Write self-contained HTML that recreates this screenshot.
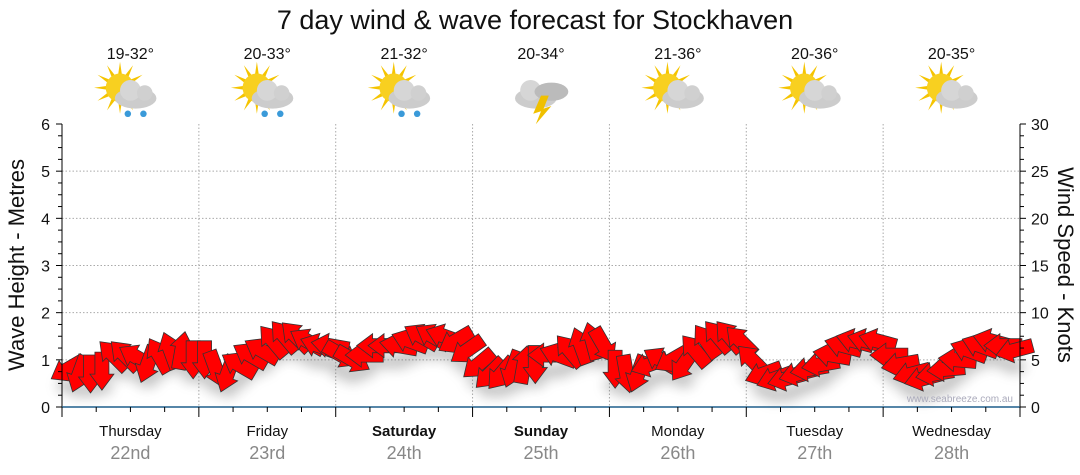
<!DOCTYPE html>
<html><head><meta charset="utf-8"><style>
html,body{margin:0;padding:0;background:#fff;}
svg{display:block;font-family:"Liberation Sans","DejaVu Sans",sans-serif;}
</style></head><body>
<svg id="chart" width="1080" height="475" viewBox="0 0 1080 475">
<defs>
<filter id="shadow" x="-10%" y="-50%" width="120%" height="200%">
<feGaussianBlur stdDeviation="6"/>
</filter>
</defs>
<text x="535" y="29" text-anchor="middle" font-size="27" fill="#111">7 day wind &amp; wave forecast for Stockhaven</text>
<g id="grid"></g>
<g id="icons"></g>
<g id="shadowLayer" filter="url(#shadow)" opacity="0.35"></g>
<g id="arrows"></g>
<g id="axes"></g>
<text x="1013" y="402" text-anchor="end" font-size="10" fill="#aab">www.seabreeze.com.au</text>
<text transform="translate(24,265) rotate(-90)" text-anchor="middle" font-size="22" fill="#111">Wave Height - Metres</text>
<text transform="translate(1058,265) rotate(90)" text-anchor="middle" font-size="22" fill="#111">Wind Speed - Knots</text>
</svg>
<script>
const days = ["Thursday","Friday","Saturday","Sunday","Monday","Tuesday","Wednesday"];
const dates = ["22nd","23rd","24th","25th","26th","27th","28th"];
const weekend = [false,false,true,true,false,false,false];
const temps = ["19-32°","20-33°","21-32°","20-34°","21-36°","20-36°","20-35°"];
const iconTypes = ["rain","rain","rain","storm","cloud","cloud","cloud"];
const waveTicks = [0,1,2,3,4,5,6];
const windTicks = [0,5,10,15,20,25,30];
// wind speed (knots), one sample every 2 hours
const windSpeed = [
4.0,3.5,3.5,3.8,5.5,5.5,5.3,4.5,5.5,6.0,6.0,5.0,
5.0,4.0,3.5,4.5,5.5,6.0,7.0,7.5,7.5,7.0,6.5,6.5,
5.5,5.0,5.5,6.5,6.5,6.5,7.0,7.5,7.5,7.5,7.0,6.0,
4.5,3.5,3.5,4.0,4.5,4.5,5.5,5.5,6.0,6.5,7.0,6.5,
4.0,3.5,3.5,4.5,5.0,5.0,4.5,6.0,7.0,7.5,7.5,7.0,
5.0,3.5,3.0,3.0,3.5,4.0,4.5,5.5,6.5,7.0,7.0,7.0,
5.5,4.5,3.5,3.0,3.5,4.0,5.0,6.0,6.5,7.0,6.5,6.0];
// arrow pointing direction (degrees, 0 = up, clockwise)
const windDir = [
240,200,180,180,315,315,300,200,330,340,10,180,
180,160,200,300,300,300,320,320,315,300,290,280,
120,120,270,270,270,280,290,300,300,290,240,235,
230,225,220,200,10,180,270,290,320,340,345,150,
180,170,200,250,300,240,215,320,325,320,320,315,
315,250,250,255,255,260,260,280,285,285,285,285,
270,260,255,255,260,265,275,290,290,285,270,255];

const NS="http://www.w3.org/2000/svg";
const X0=62,X1=1020,Y0=407,Y1=124;
const dayW=(X1-X0)/7;
const xTime=h=>X0+h/168*(X1-X0);
const yWave=m=>Y0-m/6*(Y0-Y1);
const yWind=k=>Y0-k/30*(Y0-Y1);
function mk(tag,attrs,parent){const e=document.createElementNS(NS,tag);for(const k in attrs)e.setAttribute(k,attrs[k]);parent.appendChild(e);return e;}
const grid=document.getElementById('grid'),axes=document.getElementById('axes');
waveTicks.forEach(t=>{if(t>0&&t<6){const l=mk('line',{x1:X0,x2:X1,y1:yWave(t),y2:yWave(t),stroke:'#aaa','stroke-dasharray':'1.5,2'},grid);

}});
for(let d=1;d<7;d++){const x=xTime(d*24);const l=mk('line',{x1:x,x2:x,y1:Y1,y2:Y0,stroke:'#aaa','stroke-dasharray':'1.5,2'},grid);

}
mk('line',{x1:X0,x2:X0,y1:Y1,y2:Y0+6,stroke:'#000'},axes);
for(let m=0;m<=24;m++){const y=yWave(m/4);mk('line',{x1:X0-(m%4?4:6),x2:X0,y1:y,y2:y,stroke:'#000'},axes);}
waveTicks.forEach(t=>{const e=mk('text',{x:X0-12,y:yWave(t)+6,'text-anchor':'end','font-size':16,fill:'#111'},axes);e.textContent=t;

});
mk('line',{x1:X1,x2:X1,y1:Y1,y2:Y0,stroke:'#000'},axes);
for(let m=0;m<=24;m++){const y=yWave(m/4);mk('line',{x1:X1,x2:X1+(m%4?4:6),y1:y,y2:y,stroke:'#000'},axes);}
windTicks.forEach(t=>{const e=mk('text',{x:X1+11,y:yWind(t)+6,'font-size':16,fill:'#111'},axes);e.textContent=t;

});
mk('line',{x1:X0,x2:X1,y1:Y0,y2:Y0,stroke:'#1f5f8b','stroke-width':1.5},axes);
for(let h=0;h<=168;h+=6){const x=xTime(h);mk('line',{x1:x,x2:x,y1:Y0,y2:Y0+(h%24?5:10),stroke:'#000'},axes);}
days.forEach((d,i)=>{const cx=X0+dayW*(i+0.5);
const t=mk('text',{x:cx,y:436,'text-anchor':'middle','font-size':15,fill:'#111','font-weight':weekend[i]?'bold':'normal'},axes);t.textContent=d;


const t2=mk('text',{x:cx,y:459,'text-anchor':'middle','font-size':18,fill:'#888'},axes);t2.textContent=dates[i];


const t3=mk('text',{x:cx,y:59,'text-anchor':'middle','font-size':16,fill:'#111'},document.getElementById('chart'));t3.textContent=temps[i];


const ic=document.getElementById('icons');
const g=mk('g',{transform:`translate(${cx},93) scale(1.3)`},ic);


if(iconTypes[i]!=='storm'){
for(let r=0;r<12;r++){const a=r*30*Math.PI/180;mk('polygon',{points:`${-8+Math.cos(a-0.15)*10},${-4+Math.sin(a-0.15)*10} ${-8+Math.cos(a)*20},${-4+Math.sin(a)*20} ${-8+Math.cos(a+0.15)*10},${-4+Math.sin(a+0.15)*10}`,fill:'#f5c400'},g);}
mk('circle',{cx:-8,cy:-4,r:11,fill:'#f8d020'},g);
}
const cxo=iconTypes[i]==='storm'?-4:4;
mk('ellipse',{cx:cxo,cy:4,rx:16,ry:8,fill:'#ccc'},g);
mk('circle',{cx:cxo-4,cy:-2,r:8,fill:'#d6d6d6'},g);
mk('circle',{cx:cxo+7,cy:0,r:6,fill:'#d0d0d0'},g);
if(iconTypes[i]==='storm'){
mk('ellipse',{cx:8,cy:-1,rx:13,ry:7,fill:'#bbb'},g);
mk('polygon',{points:'0,2 -6,16 0,14 -4,24 8,10 2,12 6,2',fill:'#f0c000'},g);}
if(iconTypes[i]==='rain'){mk('circle',{cx:cxo-6,cy:16,r:2.5,fill:'#3a9ad9'},g);mk('circle',{cx:cxo+6,cy:16,r:2.5,fill:'#3a9ad9'},g);}
});
const arrowPts="-19,-7 3,-7 3,-12 19,0 3,12 3,7 -19,7";
const ag=document.getElementById('arrows'),sg=document.getElementById('shadowLayer');
windSpeed.forEach((k,i)=>{
const x=xTime(i*2+1),y=yWind(k);
const s=mk('ellipse',{cx:x,cy:y+16,rx:11,ry:7,fill:'#555'},sg);


const p=mk('polygon',{points:arrowPts,transform:`translate(${x},${y}) rotate(${windDir[i]-90})`,fill:'#f00',stroke:'#333','stroke-width':0.8},ag);


});
</script>
</body></html>
